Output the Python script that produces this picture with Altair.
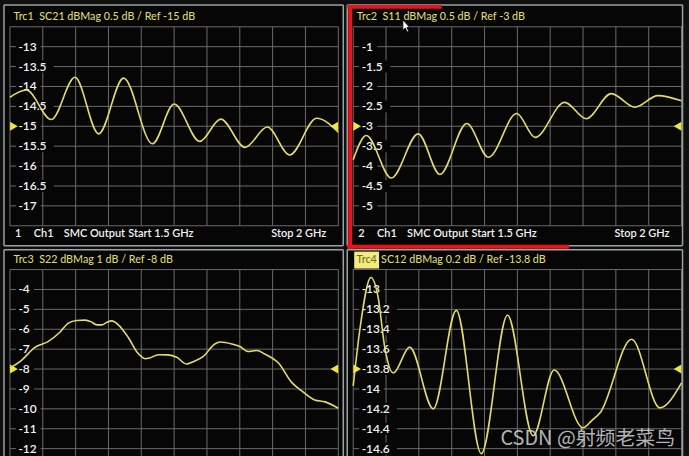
import altair as alt
import pandas as pd

# ---------------- sweep (GHz) ----------------
F_START = 1.5
F_STOP = 2.0
FREQ_GRID = [1.5, 1.55, 1.6, 1.65, 1.7, 1.75, 1.8, 1.85, 1.9, 1.95, 2.0]

# ---------------- Trc1  SC21  0.5 dB/div, Ref -15 dB ----------------
SC21_FREQ = [1.500, 1.525, 1.563, 1.599, 1.635, 1.673, 1.717, 1.750,
             1.789, 1.821, 1.858, 1.892, 1.926, 1.967, 2.000]
SC21_DB = [-14.27, -14.09, -14.83, -13.77, -15.19, -13.79, -15.44, -14.44,
           -15.38, -14.82, -15.53, -15.02, -15.72, -14.80, -15.15]
SC21_GRID = [-12.5, -13, -13.5, -14, -14.5, -15, -15.5, -16, -16.5, -17, -17.5]
SC21_TICKS = [-13, -13.5, -14, -14.5, -15, -15.5, -16, -16.5, -17]

# ---------------- Trc2  S11  0.5 dB/div, Ref -3 dB ----------------
S11_FREQ = [1.500, 1.520, 1.558, 1.599, 1.632, 1.673, 1.706, 1.749,
            1.777, 1.822, 1.855, 1.893, 1.929, 1.964, 2.000]
S11_DB = [-3.84, -3.23, -4.30, -3.19, -4.21, -2.93, -3.78, -2.68,
          -3.28, -2.40, -2.81, -2.18, -2.52, -2.23, -2.36]
S11_GRID = [-0.5, -1, -1.5, -2, -2.5, -3, -3.5, -4, -4.5, -5, -5.5]
S11_TICKS = [-1, -1.5, -2, -2.5, -3, -3.5, -4, -4.5, -5]

# ---------------- Trc3  S22  1 dB/div, Ref -8 dB ----------------
S22_FREQ = [1.500, 1.518, 1.538, 1.558, 1.576, 1.589, 1.602, 1.614, 1.624,
            1.632, 1.640, 1.647, 1.655, 1.665, 1.680, 1.695, 1.706, 1.713,
            1.726, 1.741, 1.754, 1.769, 1.779, 1.794, 1.812, 1.820, 1.838,
            1.850, 1.863, 1.876, 1.888, 1.909, 1.929, 1.944, 1.964, 1.980, 2.000]
S22_DB = [-7.95, -7.55, -6.91, -6.62, -6.15, -5.69, -5.56, -5.54, -5.63,
          -5.78, -5.78, -5.66, -5.58, -5.78, -6.40, -7.21, -7.48, -7.44,
          -7.28, -7.29, -7.41, -7.75, -7.63, -7.38, -6.74, -6.64, -6.74,
          -6.87, -7.12, -7.07, -7.24, -7.70, -8.67, -9.09, -9.55, -9.65, -9.97]
S22_GRID = [-3, -4, -5, -6, -7, -8, -9, -10, -11, -12, -13]
S22_TICKS = [-4, -5, -6, -7, -8, -9, -10, -11, -12]

# ---------------- Trc4  SC12  0.2 dB/div, Ref -13.8 dB ----------------
SC12_FREQ = [1.500, 1.510, 1.527, 1.538, 1.548, 1.561, 1.586, 1.622, 1.657,
             1.695, 1.735, 1.774, 1.806, 1.850, 1.863, 1.876, 1.924, 1.967, 2.000]
SC12_DB = [-13.97, -13.41, -12.88, -13.08, -13.58, -13.84, -13.58, -14.20, -13.21,
           -14.65, -13.26, -14.47, -13.81, -14.39, -14.32, -14.24, -13.50, -14.19, -13.94]
SC12_GRID = [-12.8, -13, -13.2, -13.4, -13.6, -13.8, -14, -14.2, -14.4, -14.6, -14.8]
SC12_TICKS = [-13, -13.2, -13.4, -13.6, -13.8, -14, -14.2, -14.4, -14.6]

# ---------------- styling ----------------
FONT = "Lato"
GRID_C = "#6c6c6c"
TRACE_C = "#e3db6b"
TITLE_C = "#dfd76c"
MARKER_C = "#f1e43e"
FRAME_C = "#9aa2a2"
RED = "#e8131b"
TEXT_C = "#f2f2f2"
PANEL_BG = "#060606"
PX_PER_DIV = 20.0
PX_PER_GHZ = 660.0
LABEL_SIZE = 12
TITLE_SIZE = 10.8
GAP = "\u00a0 "  # wide gap kept by the SVG renderer

ONE = pd.DataFrame({"k": [0]})


def text_layer(txt, x, y, color=TEXT_C, size=11, weight=600, align="left",
               baseline="middle", font=FONT, opacity=1.0):
    return alt.Chart(ONE).mark_text(
        text=txt, align=align, baseline=baseline, font=font, fontSize=size,
        fontWeight=weight, color=color, opacity=opacity
    ).encode(x=alt.value(x), y=alt.value(y))


def frame(width, height, closed_bottom):
    parts = [
        alt.Chart(ONE).mark_rule(color=FRAME_C, strokeWidth=1.5).encode(
            x=alt.value(0), x2=alt.value(width), y=alt.value(0)),
        alt.Chart(ONE).mark_rule(color=FRAME_C, strokeWidth=1.5).encode(
            x=alt.value(0), y=alt.value(0), y2=alt.value(height)),
        alt.Chart(ONE).mark_rule(color=FRAME_C, strokeWidth=1.5).encode(
            x=alt.value(width), y=alt.value(0), y2=alt.value(height)),
    ]
    if closed_bottom:
        parts.append(alt.Chart(ONE).mark_rule(color=FRAME_C, strokeWidth=1.5).encode(
            x=alt.value(0), x2=alt.value(width), y=alt.value(height)))
    return parts


def panel(freq, db, grid, ticks, ref, div, width, height, top,
          title_parts, footer, extras):
    x0 = F_START - 6 / PX_PER_GHZ
    xs = alt.Scale(domain=[x0, F_START + (width - 6) / PX_PER_GHZ],
                   nice=False, zero=False)
    ymax = grid[0] + top * div / PX_PER_DIV
    ymin = ymax - height * div / PX_PER_DIV
    ys = alt.Scale(domain=[ymin, ymax], nice=False, zero=False)
    per_px = div / PX_PER_DIV

    visible = [g for g in grid if g >= ymin - 1e-9]
    vgrid = alt.Chart(pd.DataFrame({"f": FREQ_GRID})).mark_rule(
        color=GRID_C, strokeWidth=1).encode(
        x=alt.X("f:Q", scale=xs, axis=None),
        y=alt.YDatum(grid[0], scale=ys, axis=None),
        y2=alt.Y2Datum(max(grid[-1], ymin)))
    hgrid = alt.Chart(pd.DataFrame({"v": visible})).mark_rule(
        color=GRID_C, strokeWidth=1).encode(
        y=alt.Y("v:Q", scale=ys, axis=None),
        x=alt.XDatum(F_START, scale=xs, axis=None),
        x2=alt.X2Datum(F_STOP))

    # scale labels sit inside the graticule on a dark patch
    labs = [f"{t:g}" for t in ticks]
    tick_df = pd.DataFrame({
        "v": ticks, "lab": labs,
        "lo": [t - 6 * per_px for t in ticks],
        "hi": [t + 6 * per_px for t in ticks],
        "x1": [x0 + 12 / PX_PER_GHZ for _ in ticks],
        "x2": [x0 + (17 + 6.6 * len(s)) / PX_PER_GHZ for s in labs],
    })
    lab_bg = alt.Chart(tick_df).mark_rect(color=PANEL_BG).encode(
        x=alt.X("x1:Q", scale=xs, axis=None), x2="x2:Q",
        y=alt.Y("lo:Q", scale=ys, axis=None), y2="hi:Q")
    lab = alt.Chart(tick_df).mark_text(
        align="left", baseline="middle", font=FONT, fontSize=LABEL_SIZE,
        fontWeight=600, color=TEXT_C).encode(
        x=alt.value(14.5), y=alt.Y("v:Q", scale=ys, axis=None), text="lab:N")

    trace = alt.Chart(pd.DataFrame({"f": freq, "db": db})).mark_line(
        color=TRACE_C, strokeWidth=1.6, interpolate="monotone").encode(
        x=alt.X("f:Q", scale=xs, axis=None),
        y=alt.Y("db:Q", scale=ys, axis=None))

    ref_left = alt.Chart(ONE).mark_point(
        shape="triangle-right", filled=True, color=MARKER_C, size=80, opacity=1,
        xOffset=4).encode(
        x=alt.XDatum(F_START, scale=xs, axis=None),
        y=alt.YDatum(ref, scale=ys, axis=None))
    ref_right = alt.Chart(ONE).mark_point(
        shape="triangle-left", filled=True, color=MARKER_C, size=80, opacity=1,
        xOffset=-4).encode(
        x=alt.XDatum(F_STOP, scale=xs, axis=None),
        y=alt.YDatum(ref, scale=ys, axis=None))

    layers = [vgrid, hgrid, lab_bg, lab, trace, ref_left, ref_right]
    for txt, x, y in title_parts:
        layers.append(text_layer(txt, x, y, color=TITLE_C, size=TITLE_SIZE, weight=500))
    if footer:
        num, fy = footer
        layers += [
            text_layer(num, 11, fy),
            text_layer("Ch1", 30, fy),
            text_layer("SMC Output", 60, fy),
            text_layer("Start 1.5 GHz", 125, fy),
            text_layer("Stop 2 GHz", 324, fy, align="right"),
        ]
    layers += frame(width, height, footer is not None)
    layers += extras
    return alt.layer(*layers).properties(width=width, height=height)


W_L, W_R = 341, 337
H_TOP, H_BOT = 242, 208.5

p1 = panel(SC21_FREQ, SC21_DB, SC21_GRID, SC21_TICKS, -15, 0.5, W_L, H_TOP, 22,
           [("Trc1" + GAP + "SC21 dBMag 0.5 dB / Ref -15 dB", 9.5, 12.5)], ("1", 230), [])

# selection highlight and pointer on the S11 window
cursor = alt.Chart(ONE).mark_point(
    shape="M-0.6,-1 L-0.6,0.75 L-0.2,0.38 L0.12,1.05 L0.38,0.93 L0.08,0.28 L0.55,0.28 Z",
    filled=True, fill="#ffffff", stroke="#000000", strokeWidth=0.8, size=144,
    opacity=1).encode(x=alt.value(59.5), y=alt.value(21))
red_top = alt.Chart(ONE).mark_rule(color=RED, strokeWidth=4).encode(
    x=alt.value(0), x2=alt.value(95), y=alt.value(2))
red_left = alt.Chart(ONE).mark_rule(color=RED, strokeWidth=4).encode(
    x=alt.value(3), y=alt.value(0), y2=alt.value(245))
red_bottom = alt.Chart(ONE).mark_rule(color=RED, strokeWidth=4).encode(
    x=alt.value(0), x2=alt.value(223), y=alt.value(243))

p2 = panel(S11_FREQ, S11_DB, S11_GRID, S11_TICKS, -3, 0.5, W_R, H_TOP, 22,
           [("Trc2" + GAP + "S11 dBMag 0.5 dB / Ref -3 dB", 9.5, 12.5)], ("2", 230),
           [red_top, red_left, red_bottom, cursor])

p3 = panel(S22_FREQ, S22_DB, S22_GRID, S22_TICKS, -8, 1, W_L, H_BOT, 20,
           [("Trc3" + GAP + "S22 dBMag 1 dB / Ref -8 dB", 9.5, 10.5)], None, [])

trc4_box = alt.Chart(ONE).mark_rect(color="#f3ec7a").encode(
    x=alt.value(7), x2=alt.value(32), y=alt.value(2), y2=alt.value(19))
trc4_txt = text_layer("Trc4", 19.5, 10.5, color="#6f6c2c", size=TITLE_SIZE,
                      weight=500, align="center")
watermark = text_layer("CSDN @射频老菜鸟", 154, 196, color="#d2d2d2", size=20,
                       weight=400, baseline="alphabetic",
                       font="Noto Sans CJK SC", opacity=0.85)

p4 = panel(SC12_FREQ, SC12_DB, SC12_GRID, SC12_TICKS, -13.8, 0.2, W_R, H_BOT, 20,
           [("SC12 dBMag 0.2 dB / Ref -13.8 dB", 34, 10.5)], None,
           [trc4_box, trc4_txt, watermark])

chart = alt.concat(p1, p2, p3, p4, columns=2, spacing=4, bounds="flush").properties(
    padding={"left": 2, "top": 0.75, "right": 3.5, "bottom": 0},
    background="#0f0f0f",
).configure_view(stroke="transparent", fill=PANEL_BG)

chart.save("out.html", embed_options={"renderer": "svg", "actions": False})
